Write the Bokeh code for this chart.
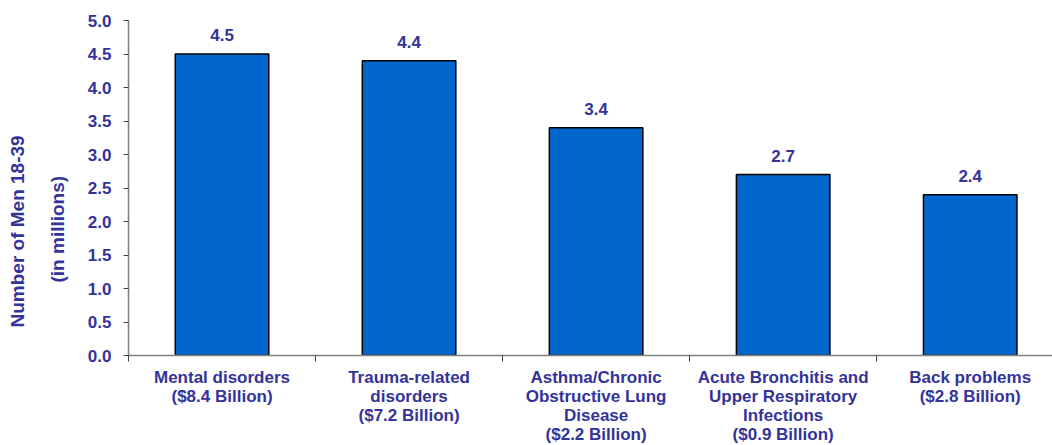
from bokeh.plotting import figure
from bokeh.models import (Range1d, LinearAxis, FixedTicker, ColumnDataSource,
                          PrintfTickFormatter, Title)
from bokeh.core.properties import value
from bokeh.embed import file_html
from bokeh.resources import INLINE

categories = [
    "Mental disorders\n($8.4 Billion)",
    "Trauma-related\ndisorders\n($7.2 Billion)",
    "Asthma/Chronic\nObstructive Lung\nDisease\n($2.2 Billion)",
    "Acute Bronchitis and\nUpper Respiratory\nInfections\n($0.9 Billion)",
    "Back problems\n($2.8 Billion)",
]
values = [4.5, 4.4, 3.4, 2.7, 2.4]
value_labels = ["4.5", "4.4", "3.4", "2.7", "2.4"]
y_ticks = [0.0, 0.5, 1.0, 1.5, 2.0, 2.5, 3.0, 3.5, 4.0, 4.5, 5.0]
y_title = ["Number of Men 18-39", "(in millions)"]

NAVY = "#333399"
FONT = "Liberation Sans"
FS = "17px"
FS_TITLE = "19px"

centers = [i + 0.5 for i in range(len(categories))]
bounds = [float(i) for i in range(len(categories))]

p = figure(width=1052, height=445, output_backend="svg", toolbar_location=None,
           x_range=Range1d(0, 4.94), y_range=Range1d(0, 5),
           x_axis_type=None, y_axis_type=None,
           min_border_left=128, min_border_right=0, min_border_top=20,
           min_border_bottom=0,
           frame_width=924, frame_height=335)
p.outline_line_color = None
p.xgrid.visible = False
p.ygrid.visible = False
p.background_fill_color = "white"
p.border_fill_color = "white"

src = ColumnDataSource(dict(x=centers, top=values, lab=value_labels))
p.vbar(x="x", top="top", width=0.5, bottom=0, source=src,
       fill_color="#0066CC", line_color="black", line_width=1.5)
p.text(x="x", y="top", text="lab", source=src, text_align="center",
       text_baseline="bottom", y_offset=-13, text_font=value(FONT),
       text_font_style="bold", text_font_size=FS, text_color=NAVY)

# y axis
yax = LinearAxis(ticker=FixedTicker(ticks=y_ticks),
                 formatter=PrintfTickFormatter(format="%.1f"))
yax.axis_line_color = "#808080"
yax.axis_line_width = 1.5
yax.major_tick_line_color = "#404040"
yax.major_tick_out = 5
yax.major_tick_in = 0
yax.minor_tick_line_color = None
yax.major_label_standoff = 12
yax.major_label_text_font = FONT
yax.major_label_text_font_style = "bold"
yax.major_label_text_font_size = FS
yax.major_label_text_color = NAVY
p.add_layout(yax, "left")

# x axis: labels at centers, tick marks at category boundaries
xax = LinearAxis(ticker=FixedTicker(ticks=centers, minor_ticks=bounds))
xax.major_label_overrides = {c: lab for c, lab in zip(centers, categories)}
xax.axis_line_color = "#808080"
xax.axis_line_width = 1.5
xax.major_tick_line_color = None
xax.major_tick_out = 0
xax.major_tick_in = 0
xax.minor_tick_line_color = "#404040"
xax.minor_tick_out = 6
xax.minor_tick_in = 0
xax.major_label_standoff = 6
xax.major_label_text_font = FONT
xax.major_label_text_font_style = "bold"
xax.major_label_text_font_size = FS
xax.major_label_text_color = NAVY
xax.major_label_text_line_height = 1.0
p.add_layout(xax, "below")

# y axis title: two lines, as two left-side titles
t2 = Title(text=y_title[1], align="left", offset=73, standoff=33,
           text_font=FONT, text_font_style="bold", text_font_size=FS_TITLE,
           text_color=NAVY)
t1 = Title(text=y_title[0], align="left", offset=28, standoff=1,
           text_font=FONT, text_font_style="bold", text_font_size=FS_TITLE,
           text_color=NAVY)
p.add_layout(t2, "left")
p.add_layout(t1, "left")

open("out.html", "w").write(file_html(p, INLINE))
